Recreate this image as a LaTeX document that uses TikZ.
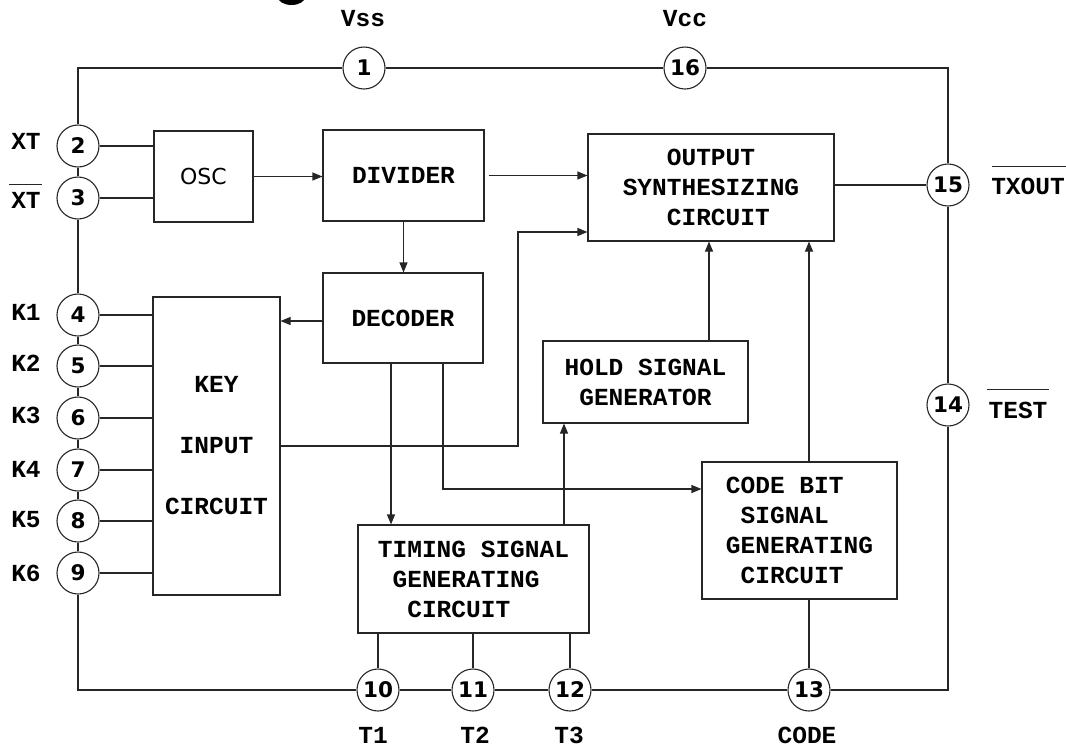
\documentclass[tikz,border=0pt]{standalone}
\usepackage{fontspec}
\newfontfamily\cour{Liberation Mono}
\newfontfamily\dvs{DejaVu Sans}
\usetikzlibrary{arrows.meta}
\begin{document}
\begin{tikzpicture}[x=1pt,y=-1pt,
  ln/.style={line width=1.1pt, draw=black!85},
  arr/.style={ln, -{Triangle[length=10pt,width=8pt]}},
  blk/.style={ln, rectangle, inner sep=0pt, font=\cour\bfseries\fontsize{24.5}{30}\selectfont},
  pin/.style={ln, circle, minimum size=42pt, inner sep=0pt, font=\dvs\bfseries\fontsize{21.5}{24}\selectfont},
  lbl/.style={inner sep=0pt, font=\cour\bfseries\fontsize{24.5}{30}\selectfont},
  ovl/.style={line width=1pt, draw=black!85}]
\useasboundingbox (0,0) rectangle (1066,748);
\begin{scope}
  \clip (0,0) rectangle (1066,748);
  \fill (291.5,-3) ellipse [x radius=13.5pt, y radius=8pt];
\end{scope}

% blocks
\node[blk, minimum width=99pt, minimum height=91pt, font=\dvs\fontsize{22}{26}\selectfont] (osc) at (203.5,176.5) {OSC};
\node[blk, minimum width=161pt, minimum height=91pt] (div) at (403.5,175.5) {DIVIDER};
\node[blk, minimum width=246pt, minimum height=107pt, align=left] (out) at (711,187.5) {\hphantom{XXX}OUTPUT\\SYNTHESIZING\\\hphantom{XXX}CIRCUIT};
\node[blk, minimum width=160pt, minimum height=90pt] (dec) at (403,318) {DECODER};
\node[blk, minimum width=127pt, minimum height=298pt, align=center, font=\cour\bfseries\fontsize{24.5}{61}\selectfont] (key) at (216.5,446) {KEY\\INPUT\\CIRCUIT};
\node[blk, minimum width=205pt, minimum height=82pt, align=left] (hold) at (645.5,382) {HOLD SIGNAL\\\hphantom{X}GENERATOR};
\node[blk, minimum width=195pt, minimum height=137pt, align=left] (cb) at (799.5,530.5) {CODE BIT\\\hphantom{X}SIGNAL\\GENERATING\\\hphantom{X}CIRCUIT};
\node[blk, minimum width=231pt, minimum height=108pt, align=left] (tim) at (473.5,579) {TIMING SIGNAL\\\hphantom{X}GENERATING\\\hphantom{XX}CIRCUIT};

% pins
\node[pin] (p1) at (364,68) {1};
\node[pin] (p16) at (685,68) {16};
\node[pin] (p2) at (78,146) {2};
\node[pin] (p3) at (78,198) {3};
\node[pin] (p4) at (78,315) {4};
\node[pin] (p5) at (78,366) {5};
\node[pin] (p6) at (78,418) {6};
\node[pin] (p7) at (78,470) {7};
\node[pin] (p8) at (78,521) {8};
\node[pin] (p9) at (78,573) {9};
\node[pin] (p15) at (948,185) {15};
\node[pin] (p14) at (948,405) {14};
\node[pin] (p10) at (378,690) {10};
\node[pin] (p11) at (473,690) {11};
\node[pin] (p12) at (570,690) {12};
\node[pin] (p13) at (809,690) {13};

% labels
\node[lbl] (vss) at (363,19) {Vss};
\node[lbl] (vcc) at (685,19) {Vcc};
\node[lbl] (xt) at (26,141) {XT};
\node[lbl] (xtb) at (26,200) {XT};
\node[lbl] (k1) at (26,312) {K1};
\node[lbl] (k2) at (26,363) {K2};
\node[lbl] (k3) at (26,415) {K3};
\node[lbl] (k4) at (26,469) {K4};
\node[lbl] (k5) at (26,520) {K5};
\node[lbl] (k6) at (26,573) {K6};
\node[lbl] (txout) at (1028,186) {TXOUT};
\node[lbl] (test) at (1018,410) {TEST};
\node[lbl] (t1) at (373,735) {T1};
\node[lbl] (t2) at (475,735) {T2};
\node[lbl] (t3) at (569,735) {T3};
\node[lbl] (code) at (807,735) {CODE};
\draw[ovl] ([xshift=-2pt,yshift=7pt]xtb.north west) -- ([xshift=1pt,yshift=7pt]xtb.north east);
\draw[ovl] ([xshift=1pt,yshift=11pt]txout.north west) -- ([xshift=2pt,yshift=11pt]txout.north east);
\draw[ovl] ([xshift=-1pt,yshift=12pt]test.north west) -- ([xshift=1pt,yshift=12pt]test.north east);

% frame
\coordinate (tl) at (78,68);
\coordinate (tr) at (948,68);
\coordinate (bl) at (78,690);
\coordinate (br) at (948,690);
\draw[ln] (p1) -- (p16);
\draw[ln] (p1) -- (tl) -- (p2);
\draw[ln] (p2) -- (p3);
\draw[ln] (p3) -- (p4);
\draw[ln] (p4) -- (p5);
\draw[ln] (p5) -- (p6);
\draw[ln] (p6) -- (p7);
\draw[ln] (p7) -- (p8);
\draw[ln] (p8) -- (p9);
\draw[ln] (p9) -- (bl) -- (p10);
\draw[ln] (p10) -- (p11);
\draw[ln] (p11) -- (p12);
\draw[ln] (p12) -- (p13);
\draw[ln] (p13) -- (br) -- (p14);
\draw[ln] (p14) -- (p15);
\draw[ln] (p15) -- (tr) -- (p16);

% pin to block wires
\draw[ln] (p2.east) -- (p2.east -| osc.west);
\draw[ln] (p3.east) -- (p3.east -| osc.west);
\foreach \p in {p4,p5,p6,p7,p8,p9}{
  \draw[ln] (\p.east) -- (\p.east -| key.west);
}
\draw[ln] (out.east |- p15) -- (p15);
\draw[ln] (p10 |- tim.south) -- (p10);
\draw[ln] (p11 |- tim.south) -- (p11);
\draw[ln] (p12 |- tim.south) -- (p12);
\draw[ln] (p13 |- cb.south) -- (p13);

% signal arrows
\draw[arr] (osc.east) -- (osc.east -| div.west);
\draw[arr] ([xshift=4pt]div.east) -- (div.east -| out.west);
\draw[arr] (div.south) -- (div.south |- dec.north);
\draw[arr] ([yshift=-3pt]dec.west) -- ([yshift=-3pt]dec.west -| key.east);
\coordinate (ka) at (518,446);
\coordinate (kb) at (518,232);
\draw[arr] (ka -| key.east) -- (ka) -- (kb) -- (kb -| out.west);
\coordinate (xa) at (391,0);
\draw[arr] (xa |- dec.south) -- (xa |- tim.north);
\coordinate (da) at (443,489);
\draw[arr] (da |- dec.south) -- (da) -- (da -| cb.west);
\coordinate (xb) at (564,0);
\draw[arr] (xb |- tim.north) -- (xb |- hold.south);
\coordinate (xc) at (709,0);
\draw[arr] (xc |- hold.north) -- (xc |- out.south);
\coordinate (xd) at (809,0);
\draw[arr] (xd |- cb.north) -- (xd |- out.south);
\end{tikzpicture}
\end{document}
